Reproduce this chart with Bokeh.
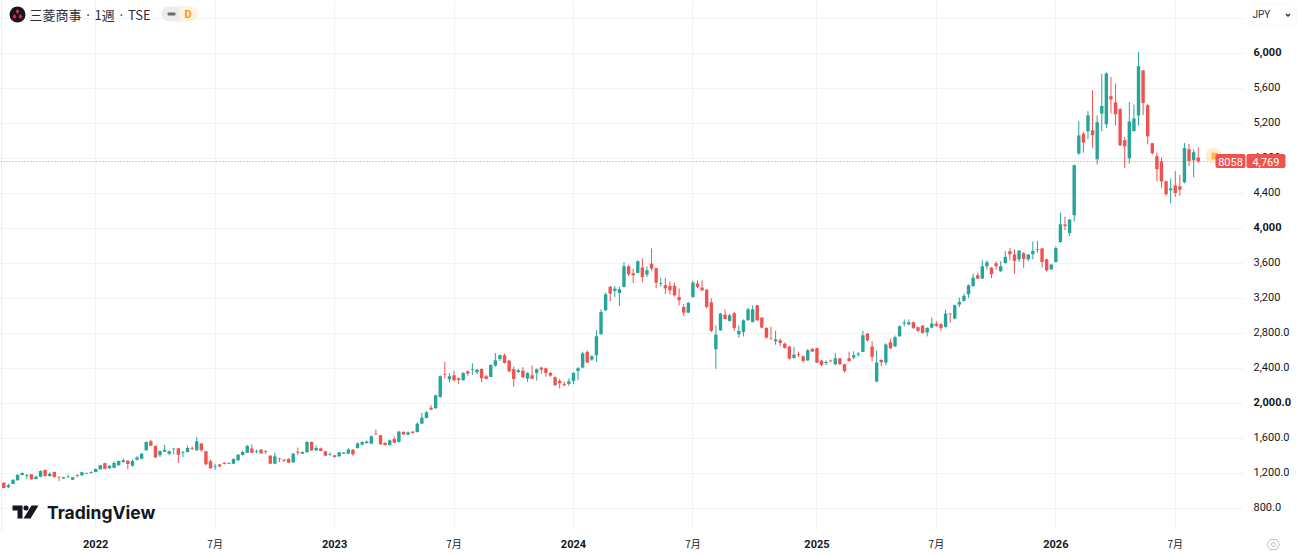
from bokeh.plotting import figure
from bokeh.layouts import column
from bokeh.models import (ColumnDataSource, Range1d, LinearAxis, FixedTicker, Label, BoxAnnotation,
                          PolyAnnotation, Span)
from bokeh.embed import file_html
from bokeh.resources import INLINE

opens = [1099,1046,1084,1126,1187,1172,1194,1141,1167,1244,1175,1221,1167,1145,1160,1133,1183,1183,1202,1209,
 1221,1251,1320,1263,1270,1297,1335,1350,1293,1362,1373,1468,1571,1518,1411,1453,1430,1480,1491,1442,
 1449,1495,1468,1545,1457,1343,1282,1305,1327,1316,1316,1354,1415,1442,1488,1449,1476,1457,1407,1316,
 1377,1362,1369,1331,1453,1430,1446,1564,1468,1491,1457,1415,1411,1400,1430,1430,1476,1495,1533,1552,
 1545,1659,1640,1552,1529,1598,1564,1678,1648,1682,1678,1773,1838,
 1955,1949,2078,2337,2280,2326,2292,2269,2372,2387,2360,2398,2315,2307,2437,2513,2555,2494,2395,2364,2379,
 2288,2326,2353,2414,2406,2353,2303,2261,2227,2227,2261,2375,2414,2593,2505,2555,2795,3069,3336,3290,
 3267,3336,3572,3492,3496,3557,3477,3602,3549,3370,3355,3347,3347,3221,3107,3042,3221,3374,3328,3305,
 3160,2623,2840,3019,2947,3035,2795,2821,2955,2935,3126,2985,2867,2745,2714,2726,2688,2653,2524,2566,
 2543,2497,2627,2635,2494,2467,2494,2452,2520,2452,2520,
 2528,2562,2593,2802,2654,2254,2501,2471,2703,2657,2772,2917,2909,2932,2875,2894,2817,2871,2917,2909,
 2878,3031,2974,3134,3176,3252,3347,3469,3431,3572,3557,3606,3515,3610,3743,3705,3648,3720,3652,3709,
 3758,3774,3652,3538,3621,3850,4048,3953,4155,4860,5085,5115,5126,4795,5317,5195,5515,5446,5366,5012,
 4806,5119,5294,5808,5412,4978,4829,4772,4543,4441,4494,4486,4532,4909,4783,4814]
highs = [1107,1087,1137,1194,1217,1197,1197,1182,1239,1249,1217,1227,1170,1164,1194,1164,1194,1224,1213,1228,
 1262,1302,1327,1297,1342,1352,1377,1357,1362,1402,1437,1569,1587,1522,1467,1530,1467,1497,1497,1461,
 1522,1514,1621,1552,1462,1362,1316,1312,1335,1332,1377,1427,1462,1532,1537,1477,1482,1472,1412,1442,
 1382,1367,1377,1437,1499,1457,1572,1569,1522,1499,1462,1445,1417,1452,1449,1497,1482,1557,1572,1582,
 1639,1707,1647,1567,1592,1627,1692,1687,1682,1687,1787,1897,1917,
 1985,2105,2325,2480,2350,2380,2300,2360,2380,2465,2395,2405,2330,2450,2580,2565,2575,2500,2425,2400,2420,
 2360,2440,2405,2425,2415,2365,2315,2285,2255,2290,2360,2420,2595,2610,2555,2840,3080,3270,3350,3345,
 3340,3620,3590,3545,3640,3660,3570,3775,3555,3440,3440,3400,3385,3320,3140,3165,3410,3410,3410,3310,
 3205,2895,3040,3080,3030,3050,2895,2965,3095,3125,3130,2990,2875,2880,2835,2745,2700,2665,2650,2595,
 2555,2625,2640,2645,2505,2495,2505,2580,2525,2460,2595,
 2600,2590,2835,2810,2715,2610,2510,2690,2745,2780,2895,2965,2965,2940,2885,2900,2875,2985,2945,2920,
 3075,3035,3135,3215,3260,3365,3490,3500,3640,3640,3565,3630,3630,3745,3780,3765,3755,3735,3710,3855,
 3860,3780,3660,3595,3800,4185,4140,4110,4735,5230,5110,5345,5585,5295,5770,5790,5735,5660,5380,5050,
 5450,5420,6020,5815,5425,4985,4870,4815,4550,4575,4660,4615,4980,4970,4910,4930]
lows = [1035,1035,1082,1122,1182,1142,1132,1135,1162,1167,1167,1157,1117,1142,1152,1127,1160,1177,1197,1202,
 1217,1247,1252,1257,1263,1292,1327,1251,1282,1352,1367,1462,1517,1382,1392,1449,1412,1422,1324,1392,
 1445,1472,1462,1452,1297,1257,1244,1272,1307,1312,1312,1347,1407,1437,1437,1437,1427,1427,1312,1312,
 1332,1337,1322,1327,1412,1425,1442,1462,1462,1457,1402,1407,1387,1395,1425,1425,1407,1487,1527,1542,
 1537,1647,1532,1522,1522,1552,1557,1642,1642,1662,1672,1767,1832,
 1925,1945,2070,2290,2245,2255,2225,2265,2320,2330,2340,2245,2280,2305,2425,2490,2460,2360,2195,2350,2295,
 2250,2280,2265,2345,2310,2310,2205,2175,2195,2205,2225,2270,2405,2465,2490,2480,2790,3060,3170,3220,
 3120,3330,3460,3380,3490,3390,3450,3520,3320,3340,3255,3250,3225,3125,3000,3035,3210,3320,3290,3090,
 2820,2400,2835,2965,2940,2835,2755,2770,2950,2930,2945,2865,2745,2735,2675,2660,2630,2505,2515,2535,
 2470,2490,2590,2465,2430,2440,2475,2440,2445,2355,2480,
 2510,2540,2590,2710,2485,2250,2430,2440,2625,2650,2765,2885,2895,2855,2820,2805,2770,2865,2880,2830,
 2870,2925,2965,3105,3170,3210,3335,3425,3425,3535,3435,3535,3505,3600,3640,3485,3620,3550,3630,3650,
 3725,3555,3510,3530,3615,3840,3985,3920,4085,4845,4870,5025,4925,4735,5115,5150,5320,5180,4945,4695,
 4745,5110,5180,5300,4965,4850,4540,4465,4375,4290,4365,4375,4520,4715,4590,4755]
closes = [1038,1069,1133,1190,1209,1183,1137,1167,1232,1175,1202,1164,1160,1160,1167,1160,1175,1217,1209,1217,
 1255,1297,1259,1293,1324,1347,1354,1312,1347,1385,1430,1564,1522,1385,1461,1476,1457,1487,1419,1449,
 1495,1487,1571,1468,1308,1263,1289,1285,1316,1324,1369,1419,1449,1518,1442,1457,1434,1449,1316,1400,
 1369,1350,1327,1430,1442,1449,1564,1468,1495,1461,1407,1423,1392,1446,1442,1476,1423,1548,1564,1568,
 1628,1651,1537,1529,1583,1556,1682,1651,1674,1667,1773,1842,1903,
 1935,2097,2315,2330,2315,2269,2273,2353,2345,2395,2391,2292,2284,2444,2497,2555,2467,2372,2284,2383,2303,
 2353,2288,2395,2391,2353,2322,2212,2235,2216,2257,2353,2406,2577,2471,2543,2772,3050,3252,3259,3316,
 3309,3572,3480,3469,3629,3450,3526,3545,3385,3378,3320,3297,3240,3183,3042,3153,3385,3336,3297,3107,
 2833,2791,3031,2970,3012,2867,2833,2955,3080,3080,2955,2871,2756,2738,2737,2695,2638,2516,2562,2555,
 2490,2612,2597,2471,2444,2478,2486,2520,2452,2375,2490,
 2555,2574,2783,2726,2536,2471,2475,2677,2635,2760,2886,2928,2932,2867,2836,2810,2867,2917,2890,2867,
 3031,3023,3126,3164,3233,3355,3442,3431,3572,3618,3480,3572,3572,3679,3709,3633,3751,3656,3705,3747,
 3766,3621,3526,3591,3781,4052,4033,4105,4726,5065,4985,5298,5069,5218,5404,5774,5477,5309,4955,4943,
 5225,5260,5858,5439,5058,4863,4680,4540,4395,4460,4410,4445,4924,4776,4875,4769]

y_tick_values = [6000,5600,5200,4800,4400,4000,3600,3200,2800,2400,2000,1600,1200,800]
y_tick_labels = ["6,000","5,600","5,200","4,800","4,400","4,000","3,600","3,200","2,800.0","2,400.0","2,000.0","1,600.0","1,200.0","800.0"]
y_bold = [6000,4000,2000]
x_tick_index = [20,46,72,98,124,150,177,203,229,255]
x_tick_labels = ["2022","7月","2023","7月","2024","7月","2025","7月","2026","7月"]

W, H = 1298, 555
FRAME_R, FRAME_B = 1243, 530
STEP = 4.594
X0 = 3.3
PX_PER_YEN = 0.0875
Y6000 = 53.3
LABEL_LIFT = 2.3
GREEN, RED = "#26a69a", "#ef5350"
TEXT = "#131722"
FONT = "Roboto"

x_range = Range1d(-X0/STEP, (FRAME_R-X0)/STEP)
y_range = Range1d(6000-(FRAME_B-Y6000)/PX_PER_YEN, 6000+Y6000/PX_PER_YEN)

p = figure(width=W, height=H, x_range=x_range, y_range=y_range, output_backend="svg",
           toolbar_location=None, min_border_left=0, min_border_top=0,
           min_border_right=W-FRAME_R, min_border_bottom=H-FRAME_B,
           x_axis_location=None, y_axis_location=None,
           background_fill_color="white", border_fill_color=None, outline_line_color=None)
lift = LABEL_LIFT / PX_PER_YEN
p.extra_y_ranges["labels"] = Range1d(y_range.start - lift, y_range.end - lift)

p.xgrid.ticker = FixedTicker(ticks=x_tick_index)
p.ygrid.ticker = FixedTicker(ticks=y_tick_values+[6400])
p.xgrid.grid_line_color = "#f2f3f5"
p.ygrid.grid_line_color = "#f2f3f5"

idx = list(range(len(closes)))
colors = [GREEN if c >= o else RED for o, c in zip(opens, closes)]
src = ColumnDataSource(dict(x=idx, o=opens, h=highs, l=lows, c=closes, color=colors))
p.segment("x", "h", "x", "l", color="color", line_width=1, source=src)
p.vbar("x", top="o", bottom="c", width=3.4/STEP, fill_color="color", line_color=None, source=src)

# axes
yax = LinearAxis(y_range_name="labels", ticker=FixedTicker(ticks=y_tick_values),
                 major_label_overrides={v: ("" if v in y_bold else t) for v, t in zip(y_tick_values, y_tick_labels)},
                 axis_line_color=None, major_tick_line_color=None, minor_tick_line_color=None,
                 major_tick_out=0, major_tick_in=0, minor_tick_out=0, minor_tick_in=0,
                 major_label_text_font=FONT, major_label_text_font_size="11px",
                 major_label_text_color=TEXT, major_label_standoff=10)
p.add_layout(yax, "right")
xax = LinearAxis(ticker=FixedTicker(ticks=x_tick_index),
                 major_label_overrides={v: (t if t == "7月" else "") for v, t in zip(x_tick_index, x_tick_labels)},
                 axis_line_color=None, major_tick_line_color=None, minor_tick_line_color=None,
                 major_tick_out=0, major_tick_in=0, minor_tick_out=0, minor_tick_in=0,
                 major_label_text_font="Noto Sans CJK JP", major_label_text_font_size="10px",
                 major_label_text_color=TEXT, major_label_standoff=5)
p.add_layout(xax, "below")

# left border and last price line
p.add_layout(Span(location=1, location_units="screen", dimension="height", line_color="#eceef1", line_width=1))
p.add_layout(Span(location=closes[-1], dimension="width", line_color=RED, line_alpha=0.75, line_width=1, line_dash="1 2"))

# transparent sheet over the whole page for everything outside the price frame
ov = figure(width=W, height=H, x_range=Range1d(0, W), y_range=Range1d(H, 0), output_backend="svg",
            toolbar_location=None, min_border=0, min_border_left=0, min_border_right=0, min_border_top=0,
            min_border_bottom=0, x_axis_location=None, y_axis_location=None,
            background_fill_color=None, border_fill_color=None, outline_line_color=None,
            margin=(-H, 0, 0, 0))
ov.grid.visible = False
# the two frames must not be aligned with each other, or the sheet shrinks to the price frame
for f in (p, ov):
    if "frame_align" in f.properties():
        f.frame_align = False

def lab(text, x, y, **kw):
    d = dict(text=text, x=x, y=y, x_units="canvas", y_units="canvas", text_font=FONT,
             text_font_size="11px", text_color=TEXT, text_align="left", text_baseline="middle")
    d.update(kw)
    ov.add_layout(Label(**d))

def box(l, r, t, b, fill, radius=0, line=None, alpha=1.0):
    ov.add_layout(BoxAnnotation(left=l, right=r, top=t, bottom=b, left_units="canvas", right_units="canvas",
                                top_units="canvas", bottom_units="canvas", fill_color=fill, fill_alpha=alpha,
                                line_color=line, border_radius=radius))

def poly(pts, fill, line=None, alpha=1.0, width=1):
    ov.add_layout(PolyAnnotation(xs=[a for a, _ in pts], ys=[b for _, b in pts], xs_units="canvas", ys_units="canvas",
                                 fill_color=fill, fill_alpha=alpha, line_color=line, line_width=width))

for v, t in zip(y_tick_values, y_tick_labels):
    if v in y_bold:
        lab(t, 1253, Y6000 + (6000 - v) * PX_PER_YEN - LABEL_LIFT, text_font_style="bold")
for v, t in zip(x_tick_index, x_tick_labels):
    if t != "7月":
        lab(t, X0 + v * STEP, 543, text_font_style="bold", text_align="center")

# badge and price tags
box(1205, 1221, 147, 163, "#ffe0b2", radius=8, alpha=0.55)
box(1211, 1217, 152, 159, "#ffb74d", radius=1)
box(1215, 1245, 153.5, 167.5, RED, radius=2)
box(1246, 1285, 153.5, 167.5, RED, radius=2)
lab("8058", 1230, 161, text_color="white", text_align="center")
lab(f"{closes[-1]:,}", 1265.5, 161, text_color="white", text_align="center")

# header
box(9, 25, 6, 22, "#131722", radius=8)
for dx, dy in [(0,-3),(-3,2),(3,2)]:
    cx, cy = 17+dx, 14+dy
    poly([(cx,cy-2.4),(cx+1.8,cy),(cx,cy+2.4),(cx-1.8,cy)], "#ef2b3c")
lab("三菱商事 · 1週 · TSE", 29, 14, text_font="Noto Sans CJK JP", text_font_size="13px", text_color="#2a2e39")
box(161, 197, 6, 21, "#ececee", radius=7)
box(178, 197, 6, 21, "#fff3e0", radius=7)
box(167, 175, 12, 15, "#6a6d78", radius=1)
lab("D", 187.5, 14, text_font_style="bold", text_font_size="11px", text_color="#ff9800", text_align="center")

# currency button
box(1249, 1296, 4, 25, "white", radius=4, line="#e9ebef")
lab("JPY", 1252, 14, text_font_size="10px", text_color="#2a2e39")
poly([(1286,13),(1287.5,14.5),(1289,13),(1290,14),(1287.5,16.5),(1285,14)], "#2a2e39")

# TradingView mark
poly([(12,505),(22,505),(22,518),(17,518),(17,510),(12,510)], "#131722")
box(23, 28, 505, 510, "#131722", radius=2)
poly([(31,505),(38,505),(30,518),(23,518)], "#131722")
lab("TradingView", 46.5, 512, text_font="Inter", text_font_size="17.5px", text_font_style="bold", text_color="#131722")

# settings icon
poly([(1266.5,544),(1269.5,539),(1276,539),(1279,544),(1276,549),(1269.5,549)], None, line="#3c4043")
box(1271, 1275, 542, 546, None, radius=2, line="#3c4043")

page = column(p, ov, spacing=0)
open("out.html", "w").write(file_html(page, INLINE))
